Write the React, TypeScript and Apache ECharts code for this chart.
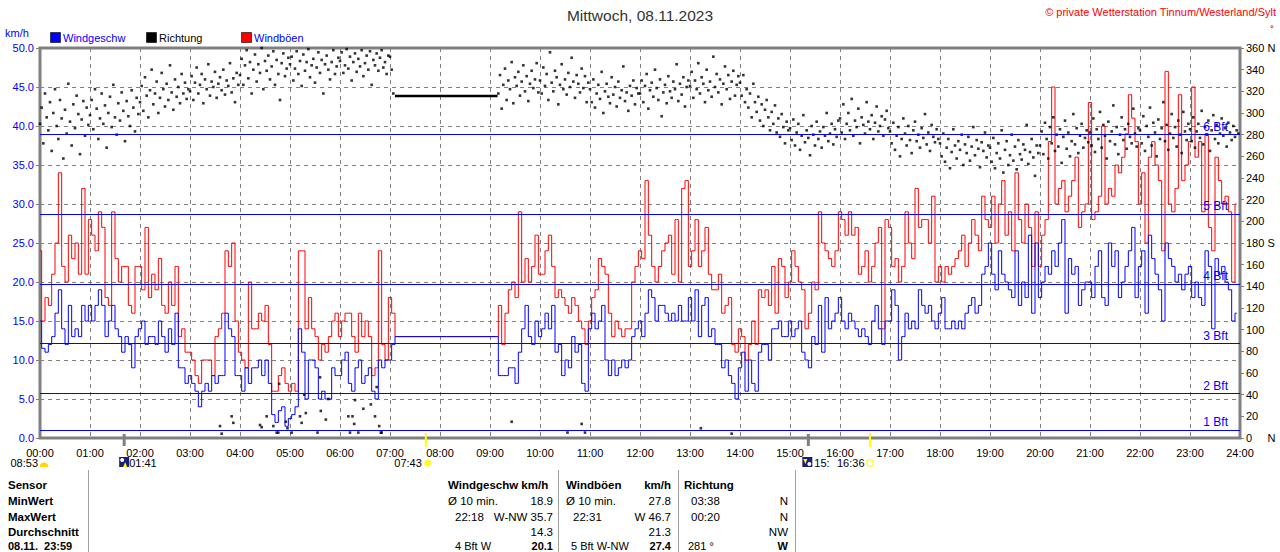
import React, { useEffect, useRef } from 'react';
import * as echarts from 'echarts';

const FONT = '"Liberation Sans", Arial, Helvetica, sans-serif';
const TITLE = 'Mittwoch, 08.11.2023';
const COPYRIGHT = '\u00a9 private Wetterstation Tinnum/Westerland/Sylt';

// time grid (minutes since 00:00)
const SPEED_STEP = 4;
const SPEED_DAY_START = 548; // 09:08
const DIR_STEP = 2;
const DIR_DAY_START = 550; // 09:10

// Windgeschw km/h, every 4 min from 00:00 to 07:08
const speedNight = [
  15, 11.5, 11, 12, 13, 16, 19, 14, 12, 17, 13, 14, 13, 17, 15,
  17, 15, 17, 19, 17, 13, 15, 17, 14, 13, 11, 13, 12, 9, 13,
  14, 15, 12, 13, 13, 12, 15, 13, 11, 14, 12, 16, 9, 9, 7,
  8, 7, 6, 4, 6, 7, 6, 8, 7, 8, 8, 16, 14, 13, 8,
  8, 6, 9, 7, 9, 9, 10, 8, 10, 7, 3, 2, 3.5, 4, 1.5,
  2.5, 3, 4, 14, 11, 5, 10, 10, 9, 5, 6, 5, 5, 9, 8,
  8, 10, 11, 7, 6, 9, 10, 7, 8, 9, 6, 5, 10, 9, 10,
  10, 12, 13,
];
// Windböen km/h, every 4 min from 00:00 to 07:08
const gustNight = [
  24, 15, 18, 17, 21, 25, 34, 22, 20, 26, 23, 25, 21, 32, 21,
  28, 26, 24, 29, 27, 18, 17, 29, 23, 20, 22, 22, 17, 16, 22,
  22, 19, 27, 18, 21, 19, 23, 17, 16, 20, 17, 22, 13, 14, 11,
  11, 10, 8, 7, 10, 10, 10, 8, 13, 14, 16, 24, 22, 25, 15,
  11, 10, 9, 20, 14, 14, 16, 15, 17, 12, 6, 6, 8, 9, 7,
  6, 7, 6, 24, 24, 14, 18, 14, 13, 10, 12, 11, 13, 15, 16,
  13, 15, 16, 16, 13, 11, 16, 13, 15, 13, 8, 9, 24, 12, 10,
  18, 16, 13,
];
// Windgeschw km/h, every 4 min from 09:08 to 23:56
const speedDay = [
  13,
  8, 8, 8, 9, 9, 7, 11, 14, 17, 13, 12, 15,
  13, 14, 16, 14, 17, 11, 12, 8, 10, 9, 13, 11, 12, 7, 6,
  14, 16, 14, 15, 17, 10, 8, 10, 8, 9, 10, 9, 10, 13, 14,
  15, 13, 16, 19, 18, 15, 17, 17, 16, 15, 16, 15, 17, 15, 15,
  18, 15, 19, 13, 17, 18, 13, 14, 12, 12, 9, 10, 8, 7, 5,
  9, 11, 6, 10, 7, 6, 11, 12, 12, 10, 14, 14, 15, 13, 13,
  15, 13, 14, 15, 11, 10, 9, 13, 12, 17, 11, 18, 14, 15, 16,
  18, 15, 14, 16, 15, 14, 13, 14, 13, 12, 15, 17, 14, 12, 15,
  15, 19, 17, 10, 13, 16, 14, 15, 14, 19, 17, 16, 17, 15, 14,
  16, 18, 14, 14, 15, 14, 15, 14, 16, 17, 18, 16, 17, 21, 22,
  25, 21, 19, 24, 21, 20, 19, 18, 24, 17, 20, 18, 26, 16, 25,
  18, 20, 22, 21, 24, 22, 25, 28, 16, 23, 21, 22, 17, 19, 20,
  20, 18, 22, 24, 18, 17, 25, 22, 24, 18, 20, 22, 24, 27, 18,
  22, 24, 16, 26, 23, 21, 19, 15, 25, 23, 22, 20, 21, 19, 21,
  22, 18, 20, 18, 17, 24, 22, 14, 23, 21, 22, 20, 19, 15, 16,
];
// Windböen km/h, every 4 min from 09:08 to 23:56
const gustDay = [
  13,
  17, 12, 16, 19, 20, 18, 29, 20, 23, 20, 22, 26,
  21, 21, 24, 26, 22, 18, 19, 18, 17, 16, 18, 17, 15, 14, 12,
  15, 18, 19, 23, 22, 21, 16, 13, 15, 14, 13, 14, 14, 20, 22,
  24, 23, 33, 26, 22, 20, 22, 24, 25, 26, 21, 28, 20, 32, 33,
  22, 24, 28, 22, 24, 27, 21, 19, 19, 21, 16, 17, 18, 12, 11,
  14, 13, 10, 12, 15, 12, 19, 18, 19, 17, 22, 16, 23, 22, 18,
  20, 24, 22, 20, 19, 14, 16, 20, 19, 29, 25, 24, 23, 22, 24,
  29, 28, 26, 29, 26, 27, 21, 22, 24, 20, 22, 25, 27, 14, 28,
  27, 22, 23, 20, 22, 29, 25, 23, 32, 27, 28, 28, 25, 31, 20,
  22, 20, 22, 21, 22, 23, 24, 26, 22, 25, 28, 26, 24, 31, 28,
  27, 31, 25, 30, 33, 26, 29, 24, 34, 28, 25, 30, 27, 22, 29,
  22, 26, 28, 38, 45, 30, 32, 33, 29, 31, 33, 36, 27, 29, 30,
  43, 28, 29, 31, 40, 30, 32, 31, 35, 34, 36, 39, 44, 41, 38,
  30, 34, 25, 36, 38, 35, 33, 24, 47, 30, 29, 32, 44, 33, 35,
  38, 45, 36, 38, 29, 39, 27, 24, 36, 33, 30, 31, 29, 20, 30,
];

// Richtung degrees, every 2 min from 00:00 to 07:04
const dirNight = [
  290, 305, 272, 318, 296, 284, 310, 265, 300, 322, 288, 276, 312, 295, 258, 303, 281, 327, 292, 270, 308, 286, 316, 299, 262, 294, 311, 279, 305, 289,
  298, 312, 285, 322, 304, 276, 295, 318, 290, 307, 268, 300, 315, 287, 326, 296, 280, 309, 293, 319, 302, 274, 311, 297, 288, 321, 305, 283, 314, 299,
  310, 325, 302, 333, 316, 296, 321, 340, 308, 318, 329, 300, 314, 337, 322, 306, 327, 312, 344, 319, 303, 331, 315, 324, 309, 336, 318, 328, 313, 322,
  320, 334, 312, 328, 342, 318, 326, 336, 309, 331, 322, 345, 316, 329, 324, 338, 314, 327, 333, 321, 340, 317, 330, 325, 346, 319, 332, 310, 337, 326,
  335, 350, 326, 344, 358, 332, 347, 318, 340, 354, 329, 345, 337, 360, 322, 348, 339, 353, 331, 343, 357, 326, 349, 336, 312, 346, 355, 334, 341, 351,
  345, 352, 330, 341, 357, 336, 348, 325, 354, 339, 347, 359, 333, 344, 350, 328, 342, 356, 337, 349, 318, 345, 353, 340, 331, 347, 358, 336, 343, 351,
  348, 356, 337, 344, 359, 341, 352, 330, 347, 355, 338, 350, 343, 358, 334, 346, 353, 340, 357, 326, 349, 344, 355, 339, 351, 358, 342, 347, 336, 353,
  352, 340, 318,
];
// Richtung degrees, every 2 min from 09:10 to 23:58
const dirDay = [
  318, 335, 304, 326, 341, 312, 330, 322, 347, 309, 333, 325, 338, 316, 329, 344, 320, 334, 311, 327, 339, 323, 331, 346, 319,
  330, 318, 342, 325, 336, 312, 356, 328, 320, 339, 333, 308, 326, 345, 322, 331, 317, 337, 324, 351, 329, 314, 335, 327, 319, 341, 323, 334, 310, 328,
  322, 310, 331, 305, 318, 326, 313, 338, 300, 320, 327, 315, 309, 333, 317, 324, 306, 329, 314, 321, 343, 311, 319, 302, 325, 316, 330, 308, 323, 318,
  318, 330, 310, 325, 336, 304, 321, 328, 315, 340, 323, 312, 331, 297, 319, 326, 309, 334, 320, 314, 329, 322, 345, 311, 327, 317, 333, 306, 324, 330,
  325, 338, 314, 330, 322, 346, 318, 333, 327, 310, 340, 321, 329, 315, 352, 324, 336, 319, 331, 308, 327, 343, 322, 335, 313, 329, 339, 316, 326, 334,
  328, 316, 335, 310, 322, 305, 318, 296, 327, 310, 301, 315, 293, 308, 288, 303, 312, 296, 284, 301, 290, 307, 282, 295, 278, 299, 287, 272, 292, 284,
  286, 275, 294, 270, 282, 290, 266, 279, 298, 273, 284, 277, 261, 288, 280, 270, 292, 276, 283, 268, 287, 279, 300, 274, 281, 290, 271, 285, 278, 293,
  295, 282, 308, 276, 290, 300, 284, 313, 279, 293, 287, 304, 272, 296, 289, 281, 310, 292, 285, 298, 276, 291, 306, 283, 288, 297, 279, 294, 302, 286,
  283, 272, 291, 266, 279, 287, 260, 276, 295, 281, 270, 288, 275, 263, 284, 292, 274, 280, 268, 286, 277, 299, 271, 282, 265, 289, 278, 273, 285, 276,
  272, 260, 281, 255, 268, 276, 249, 264, 285, 270, 258, 274, 266, 280, 252, 271, 263, 278, 256, 269, 287, 261, 275, 267, 250, 273, 265, 282, 259, 270,
  268, 255, 277, 249, 263, 272, 258, 284, 245, 266, 274, 252, 261, 280, 256, 269, 248, 275, 262, 257, 271, 266, 289, 253, 264, 276, 259, 242, 270, 263,
  270, 283, 262, 291, 276, 258, 287, 272, 296, 265, 280, 269, 285, 254, 278, 293, 267, 282, 260, 274, 299, 271, 286, 263, 279, 290, 268, 277, 284, 273,
  282, 270, 295, 264, 285, 276, 301, 268, 289, 279, 258, 292, 274, 283, 307, 271, 287, 262, 280, 296, 275, 285, 267, 290, 278, 272, 304, 281, 269, 286,
  284, 272, 297, 265, 288, 278, 305, 270, 291, 282, 260, 294, 276, 286, 310, 274, 289, 266, 281, 299, 277, 287, 269, 293, 280, 263, 301, 283, 275, 290,
  285, 274, 296, 268, 283, 290, 277, 302, 271, 287, 280, 293, 265, 284, 298, 276, 289, 272, 281, 295, 279, 286, 269, 291, 282, 275, 288, 278, 284, 281,
];
// northerly readings (near 0°)
const dirNorthMinutes = [216, 218, 230, 232, 264, 266, 272, 280, 284, 286, 287, 295, 297, 302, 312, 314, 317, 319, 333, 336, 337, 343, 346, 370, 372, 375, 377, 378, 382, 388, 397, 402, 404, 407, 409, 410, 566, 633, 650, 654, 793, 830];
const dirNorthDegrees = [11, 4, 20, 14, 12, 10, 20, 11, 5, 5, 50, 15, 9, 5, 20, 14, 40, 23, 5, 56, 25, 17, 36, 20, 5, 20, 13, 35, 5, 27, 31, 20, 47, 11, 5, 5, 15, 5, 13, 5, 9, 4];
// direction held during the data gap
const dirGapMinutes = [426, 549];
const dirGapDegree = 315.7;

const bftLevels = [1.0, 5.7, 12.1, 19.7, 28.7, 38.9];
const bftNames = ['1 Bft', '2 Bft', '3 Bft', '4 Bft', '5 Bft', '6 Bft'];

const legendNames = ['Windgeschw', 'Richtung', 'Windb\u00f6en'];

// astro events (minutes)
const moonRiseMin = 101; // 01:41
const sunRiseMin = 463; // 07:43
const moonSetMin = 922;
const sunSetMin = 996; // 16:36

const tableLabels = ['Sensor', 'MinWert', 'MaxWert', 'Durchschnitt', '08.11.  23:59'];

const GRID = { left: 40, right: 40, top: 48, bottom: 114 };
const W = 1280;
const H = 552;

const pad2 = (n: number) => (n < 10 ? '0' + n : '' + n);

export default function App() {
  const ref = useRef<HTMLDivElement>(null);
  useEffect(() => {
    if (!ref.current) return;
    const chart = echarts.init(ref.current, undefined, { renderer: 'svg' });

    const speedData = [
      ...speedNight.map((v, i) => [i * SPEED_STEP, v]),
      ...speedDay.map((v, i) => [SPEED_DAY_START + i * SPEED_STEP, v]),
    ];
    const gustData = [
      ...gustNight.map((v, i) => [i * SPEED_STEP, v]),
      ...gustDay.map((v, i) => [SPEED_DAY_START + i * SPEED_STEP, v]),
    ];
    const dirData = [
      ...dirNight.map((v, i) => [i * DIR_STEP, v]),
      ...dirDay.map((v, i) => [DIR_DAY_START + i * DIR_STEP, v]),
      ...dirNorthMinutes.map((m, i) => [m, dirNorthDegrees[i]]),
    ];
    const gapData = dirGapMinutes.map((m) => [m, dirGapDegree]);

    const gw = W - GRID.left - GRID.right;
    const xOf = (min: number) => GRID.left + (min / 1440) * gw;

    const txt = (text: string, x: number, y: number, o: any = {}) => ({
      type: 'text',
      x,
      y,
      silent: true,
      z: 100,
      style: {
        text,
        fill: o.fill || '#000',
        font: `${o.bold ? 'bold ' : ''}${o.size || 11.5}px ${FONT}`,
        align: o.align || 'left',
        verticalAlign: 'middle',
      },
    });

    const rowsY = [485, 501, 517, 532, 545.5];
    const graphics: any[] = [
      txt(TITLE, 640, 15, { size: 15.5, align: 'center', fill: '#333' }),
      txt(COPYRIGHT, 1276, 12, { size: 11, align: 'right', fill: '#ff0000' }),
      txt('\u00b0', 1270, 29, { size: 9 }),
      txt('km/h', 5, 33, { size: 11, fill: '#0000ff' }),
      // legend
      { type: 'rect', shape: { x: 50.5, y: 32.5, width: 10, height: 10 }, style: { fill: '#0000ff', stroke: '#000', lineWidth: 0.6 }, z: 100 },
      txt(legendNames[0], 63, 38, { size: 11, fill: '#0000ff' }),
      { type: 'rect', shape: { x: 146.5, y: 32.5, width: 10, height: 10 }, style: { fill: '#000', stroke: '#000', lineWidth: 0.6 }, z: 100 },
      txt(legendNames[1], 159, 38, { size: 11, fill: '#000' }),
      { type: 'rect', shape: { x: 241.5, y: 32.5, width: 10, height: 10 }, style: { fill: '#ff0000', stroke: '#000', lineWidth: 0.6 }, z: 100 },
      txt(legendNames[2], 254, 38, { size: 11, fill: '#0000ff' }),
      // astro markers on the time axis
      { type: 'rect', shape: { x: xOf(moonRiseMin) - 1.5, y: 434, width: 3, height: 12 }, style: { fill: '#808080' }, z: 100 },
      { type: 'rect', shape: { x: xOf(sunRiseMin) - 1, y: 433, width: 2, height: 14 }, style: { fill: '#ffff00' }, z: 100 },
      { type: 'rect', shape: { x: xOf(moonSetMin) - 1.5, y: 434, width: 3, height: 12 }, style: { fill: '#808080' }, z: 100 },
      { type: 'rect', shape: { x: xOf(sunSetMin) - 1, y: 433, width: 2, height: 14 }, style: { fill: '#ffff00' }, z: 100 },
      txt('08:53', 38, 463, { size: 11, align: 'right' }),
      { type: 'sector', shape: { cx: 44, cy: 467, r: 4.5, r0: 0, startAngle: Math.PI, endAngle: Math.PI * 2 }, style: { fill: '#ffd800' }, z: 100 },
      // moon rise icon
      { type: 'rect', shape: { x: xOf(moonRiseMin) - 5, y: 457, width: 10, height: 10 }, style: { fill: '#1c1c7c' }, z: 100 },
      { type: 'circle', shape: { cx: xOf(moonRiseMin) - 2, cy: 460, r: 2 }, style: { fill: '#ffffff' }, z: 101 },
      { type: 'polygon', shape: { points: [[xOf(moonRiseMin) - 1, 467], [xOf(moonRiseMin) + 1, 462], [xOf(moonRiseMin) + 3, 467]] }, style: { fill: '#ffff00' }, z: 101 },
      txt('01:41', xOf(moonRiseMin) + 5, 463, { size: 11 }),
      // sunrise
      txt('07:43', xOf(sunRiseMin) - 4, 463, { size: 11, align: 'right' }),
      { type: 'circle', shape: { cx: xOf(sunRiseMin) + 2, cy: 463, r: 3.5 }, style: { fill: '#ffff00', stroke: '#fff6a0', lineWidth: 1.5 }, z: 100 },
      // moon set icon
      { type: 'rect', shape: { x: xOf(moonSetMin) - 6, y: 457, width: 10, height: 10 }, style: { fill: '#1c1c7c' }, z: 100 },
      { type: 'circle', shape: { cx: xOf(moonSetMin) + 1, cy: 464, r: 2 }, style: { fill: '#ffffff' }, z: 101 },
      { type: 'polygon', shape: { points: [[xOf(moonSetMin) - 5, 459], [xOf(moonSetMin) - 1, 459], [xOf(moonSetMin) - 3, 464]] }, style: { fill: '#ffff00' }, z: 101 },
      txt('15:', xOf(moonSetMin) + 6, 463, { size: 11 }),
      txt('16:36', xOf(sunSetMin) - 33, 463, { size: 11 }),
      { type: 'rect', shape: { x: xOf(sunSetMin) - 3, y: 460, width: 6, height: 6 }, style: { fill: 'none', stroke: '#ffff00', lineWidth: 1 }, z: 100 },
      // table separators
      { type: 'line', shape: { x1: 88.5, y1: 470, x2: 88.5, y2: 552 }, style: { stroke: '#a0a0a0', lineWidth: 1 }, z: 100 },
      { type: 'line', shape: { x1: 558.5, y1: 470, x2: 558.5, y2: 552 }, style: { stroke: '#a0a0a0', lineWidth: 1 }, z: 100 },
      { type: 'line', shape: { x1: 678.5, y1: 470, x2: 678.5, y2: 552 }, style: { stroke: '#a0a0a0', lineWidth: 1 }, z: 100 },
      { type: 'line', shape: { x1: 795.5, y1: 470, x2: 795.5, y2: 552 }, style: { stroke: '#a0a0a0', lineWidth: 1 }, z: 100 },
    ];
    tableLabels.forEach((l, i) => graphics.push(txt(l, 8, rowsY[i], { bold: true, size: i === 4 ? 11 : 11.5 })));
    const last = { size: 11 };
    // column: Windgeschw
    graphics.push(txt('Windgeschw km/h', 448, rowsY[0], { bold: true }));
    graphics.push(txt('\u00d8 10 min.', 448, rowsY[1]));
    graphics.push(txt('18.9', 553, rowsY[1], { align: 'right' }));
    graphics.push(txt('22:18', 455, rowsY[2]));
    graphics.push(txt('W-NW 35.7', 553, rowsY[2], { align: 'right' }));
    graphics.push(txt('14.3', 553, rowsY[3], { align: 'right' }));
    graphics.push(txt('4 Bft W', 455, rowsY[4], last));
    graphics.push(txt('20.1', 553, rowsY[4], { ...last, align: 'right', bold: true }));
    // column: Windböen
    graphics.push(txt('Windb\u00f6en', 566, rowsY[0], { bold: true }));
    graphics.push(txt('km/h', 671, rowsY[0], { bold: true, align: 'right' }));
    graphics.push(txt('\u00d8 10 min.', 566, rowsY[1]));
    graphics.push(txt('27.8', 671, rowsY[1], { align: 'right' }));
    graphics.push(txt('22:31', 573, rowsY[2]));
    graphics.push(txt('W 46.7', 671, rowsY[2], { align: 'right' }));
    graphics.push(txt('21.3', 671, rowsY[3], { align: 'right' }));
    graphics.push(txt('5 Bft W-NW', 571, rowsY[4], last));
    graphics.push(txt('27.4', 671, rowsY[4], { ...last, align: 'right', bold: true }));
    // column: Richtung
    graphics.push(txt('Richtung', 684, rowsY[0], { bold: true }));
    graphics.push(txt('03:38', 691, rowsY[1]));
    graphics.push(txt('N', 788, rowsY[1], { align: 'right' }));
    graphics.push(txt('00:20', 691, rowsY[2]));
    graphics.push(txt('N', 788, rowsY[2], { align: 'right' }));
    graphics.push(txt('NW', 788, rowsY[3], { align: 'right' }));
    graphics.push(txt('281 \u00b0', 688, rowsY[4], last));
    graphics.push(txt('W', 788, rowsY[4], { ...last, align: 'right', bold: true }));

    const dash = { color: '#808080', type: [4, 4] as any, width: 1 };

    chart.setOption({
      animation: false,
      backgroundColor: '#ffffff',
      textStyle: { fontFamily: FONT },
      grid: { ...GRID, show: true, borderColor: '#808080', borderWidth: 3, backgroundColor: 'transparent' },
      xAxis: {
        type: 'value',
        min: 0,
        max: 1440,
        interval: 60,
        axisLine: { show: false },
        axisTick: { show: false },
        axisLabel: {
          color: '#000',
          fontSize: 11,
          fontFamily: FONT,
          margin: 9,
          formatter: (v: number) => pad2(Math.round(v / 60)) + ':00',
        },
        splitLine: { show: true, lineStyle: dash },
      },
      yAxis: [
        {
          type: 'value',
          min: 0,
          max: 50,
          interval: 5,
          position: 'left',
          axisLine: { show: false },
          axisTick: { show: true, length: 4, lineStyle: { color: '#808080' } },
          axisLabel: { color: '#0000ff', fontSize: 11, fontFamily: FONT, margin: 6, formatter: (v: number) => v.toFixed(1) },
          splitLine: { show: true, lineStyle: dash },
        },
        {
          type: 'value',
          min: 0,
          max: 360,
          interval: 20,
          position: 'right',
          axisLine: { show: false },
          axisTick: { show: true, length: 4, lineStyle: { color: '#808080' } },
          axisLabel: {
            color: '#000',
            fontSize: 11,
            fontFamily: FONT,
            margin: 6,
            formatter: (v: number) => (v === 360 ? '360 N' : v === 180 ? '180 S' : v === 0 ? '0     N' : '' + v),
          },
          splitLine: { show: false },
        },
      ],
      series: [
        {
          type: 'line',
          name: 'Bft',
          data: [],
          z: 1,
          silent: true,
          markLine: {
            silent: true,
            symbol: ['none', 'none'],
            animation: false,
            lineStyle: { color: '#0000ff', type: 'solid', width: 1 },
            label: {
              show: true,
              position: 'insideEndTop',
              distance: 2,
              color: '#0000ff',
              fontSize: 12,
              fontFamily: FONT,
              padding: [0, 10, 0, 0],
              formatter: (p: any) => p.name,
            },
            data: bftLevels.map((v, i) => ({ yAxis: v, name: bftNames[i] })),
          },
        },
        {
          type: 'line',
          name: legendNames[2],
          data: gustData,
          step: 'middle',
          showSymbol: false,
          symbol: 'none',
          silent: true,
          z: 2,
          lineStyle: { color: '#ff0000', width: 1 },
        },
        {
          type: 'line',
          name: legendNames[0],
          data: speedData,
          step: 'middle',
          showSymbol: false,
          symbol: 'none',
          silent: true,
          z: 3,
          lineStyle: { color: '#0000ff', width: 1 },
        },
        {
          type: 'scatter',
          name: legendNames[1],
          yAxisIndex: 1,
          data: dirData,
          symbol: 'rect',
          symbolSize: 2.6,
          silent: true,
          z: 4,
          itemStyle: { color: '#000' },
        },
        {
          type: 'line',
          name: 'gap',
          yAxisIndex: 1,
          data: gapData,
          showSymbol: false,
          symbol: 'none',
          silent: true,
          z: 4,
          lineStyle: { color: '#000', width: 2.5 },
        },
      ],
      graphic: graphics,
    });
    return () => chart.dispose();
  }, []);

  return (
    <div style={{ position: 'fixed', left: 0, top: 0, width: W, height: H, background: '#fff' }}>
      <div ref={ref} style={{ width: W, height: H }} />
    </div>
  );
}
